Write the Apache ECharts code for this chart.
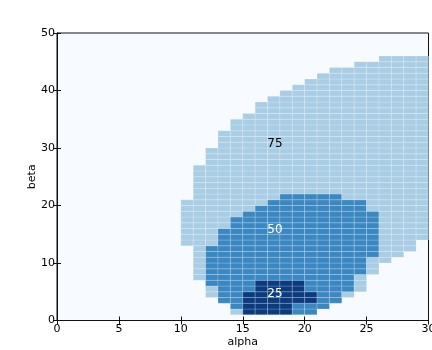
<!DOCTYPE html>
<html><head><meta charset="utf-8">
<script src="https://cdn.jsdelivr.net/npm/echarts@6/dist/echarts.min.js"></script>
<style>html,body{margin:0;padding:0;background:#fff}#c{width:432px;height:350px}</style>
</head><body><div id="c"></div><script>
// Credible regions: [beta row, first alpha column, last alpha column]
const region75 = [
  [1,14,20],[2,14,21],[3,13,22],[4,12,23],[5,12,24],[6,12,24],[7,11,24],[8,11,25],[9,11,25],
  [10,11,26],[11,11,27],[12,11,28],[13,10,28],[14,10,29],[15,10,29],[16,10,29],[17,10,29],
  [18,10,29],[19,10,29],[20,10,29],[21,11,29],[22,11,29],[23,11,29],[24,11,29],[25,11,29],
  [26,11,29],[27,12,29],[28,12,29],[29,12,29],[30,13,29],[31,13,29],[32,13,29],[33,14,29],
  [34,14,29],[35,15,29],[36,16,29],[37,16,29],[38,17,29],[39,18,29],[40,19,29],[41,20,29],
  [42,21,29],[43,22,29],[44,24,29],[45,26,29]
];
const region50 = [
  [1,15,20],[2,14,21],[3,13,22],[4,13,22],[5,13,23],[6,12,23],[7,12,23],[8,12,24],[9,12,24],
  [10,12,24],[11,12,25],[12,12,25],[13,13,25],[14,13,25],[15,13,25],[16,14,25],[17,14,25],
  [18,15,25],[19,16,24],[20,17,24],[21,18,22]
];
const region25 = [
  [1,15,18],[2,15,18],[3,15,20],[4,15,20],[5,16,19],[6,16,19]
];
const levelNames = ['25','50','75'];
const labelAlpha = [17.6, 17.6, 17.6];
const labelBeta = [4.7, 15.8, 30.8];

const colors = {25:'#0b3a7e', 50:'#3a87c1', 75:'#a9cde4'};
const cell = {};
[[75,region75],[50,region50],[25,region25]].forEach(([lv,rows])=>{
  rows.forEach(([b,a0,a1])=>{ for(let a=a0;a<=a1;a++) cell[a+','+b]=lv; });
});
const cells = Object.keys(cell).map(k=>{const [a,b]=k.split(',').map(Number);return [a,b,cell[k]];});

const chart = echarts.init(document.getElementById('c'), null, {renderer:'canvas'});
const font = 'DejaVu Sans';
const axisCommon = {
  min:0, splitLine:{show:false}, nameMoveOverlap:false,
  axisLine:{show:true, lineStyle:{color:'#111', width:1}},
  axisTick:{show:true, inside:true, length:4, lineStyle:{color:'#111'}},
};
chart.setOption({
  animation:false,
  grid:{left:57, right:3.5, top:33, bottom:29.5, outerBoundsMode:'none', containLabel:false,
    show:true, backgroundColor:'#f7fbff', borderColor:'#111', borderWidth:1},
  xAxis:[
    Object.assign({}, axisCommon, {type:'value', max:30, interval:5, position:'bottom',
      axisLabel:{color:'#000', fontSize:11, fontFamily:font, margin:3},
      name:'alpha', nameLocation:'middle', nameGap:16, nameTextStyle:{color:'#000', fontSize:11, fontFamily:font}}),
    Object.assign({}, axisCommon, {type:'value', max:30, interval:5, position:'top', axisLabel:{show:false}})
  ],
  yAxis:[
    Object.assign({}, axisCommon, {type:'value', max:50, interval:10, position:'left',
      axisLabel:{color:'#000', fontSize:11, fontFamily:font, margin:2},
      name:'beta', nameLocation:'middle', nameGap:19, nameTextStyle:{color:'#000', fontSize:11, fontFamily:font}}),
    Object.assign({}, axisCommon, {type:'value', max:50, interval:10, position:'right', axisLabel:{show:false}})
  ],
  series:[
    {
      type:'custom', xAxisIndex:0, yAxisIndex:0, clip:true, data:cells,
      renderItem:function(params, api){
        const a=api.value(0), b=api.value(1), lv=api.value(2);
        const p0=api.coord([a,b+1]), p1=api.coord([a+1,b]);
        return {type:'rect', shape:{x:p0[0], y:p0[1], width:p1[0]-p0[0], height:p1[1]-p0[1]},
          style:{fill:colors[lv], stroke:'rgba(255,255,255,0.28)', lineWidth:0.7}};
      }
    },
    {
      type:'custom', xAxisIndex:0, yAxisIndex:0, silent:true, z:5,
      data: levelNames.map((t,i)=>[labelAlpha[i], labelBeta[i], i]),
      renderItem:function(params, api){
        const p=api.coord([api.value(0), api.value(1)]);
        const t=levelNames[api.value(2)];
        return {type:'text', x:p[0], y:p[1], style:{text:t, fill: t==='75' ? '#000' : '#fff',
          font:'12px "DejaVu Sans"', align:'center', verticalAlign:'middle'}};
      }
    }
  ]
});
</script></body></html>
